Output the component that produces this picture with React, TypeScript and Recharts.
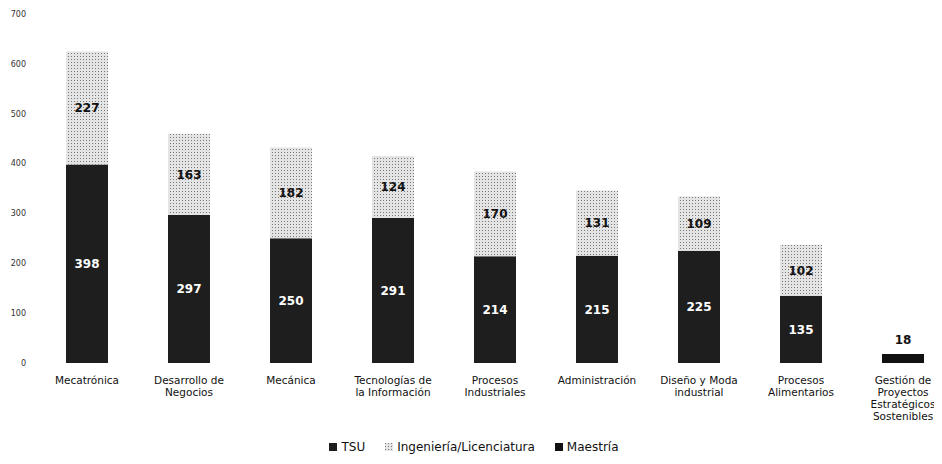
import { Bar, BarChart, LabelList, Legend, XAxis, YAxis } from "recharts";

const categories = [
  "Mecatrónica",
  "Desarrollo de\nNegocios",
  "Mecánica",
  "Tecnologías de\nla Información",
  "Procesos\nIndustriales",
  "Administración",
  "Diseño y Moda\nindustrial",
  "Procesos\nAlimentarios",
  "Gestión de\nProyectos\nEstratégicos\nSostenibles",
];
const tsu = [398, 297, 250, 291, 214, 215, 225, 135, 0];
const ingenieria = [227, 163, 182, 124, 170, 131, 109, 102, 0];
const maestria = [0, 0, 0, 0, 0, 0, 0, 0, 18];
const yTicks = [0, 100, 200, 300, 400, 500, 600, 700];

const data = categories.map((name, i) => ({
  name,
  tsu: tsu[i],
  ing: ingenieria[i],
  mae: maestria[i],
}));

const FONT = "'DejaVu Sans', sans-serif";
const hide = (v: any) => (v ? v : "");

const CategoryTick = ({ x, y, payload }: any) => {
  const lines = String(payload.value).split("\n");
  return (
    <text x={x} y={y} textAnchor="middle" fontSize={10.5} fill="#111" fontFamily={FONT}>
      {lines.map((l, i) => (
        <tspan key={i} x={x} dy={i === 0 ? 13 : 12}>
          {l}
        </tspan>
      ))}
    </text>
  );
};

const legendItems = [
  { label: "TSU", fill: "#1e1e1e" },
  { label: "Ingeniería/Licenciatura", fill: "url(#hatch)" },
  { label: "Maestría", fill: "#111" },
];

const LegendContent = () => (
  <div style={{ display: "flex", justifyContent: "center", gap: 20, fontFamily: FONT, fontSize: 12, color: "#111", paddingRight: 14 }}>
    {legendItems.map((it) => (
      <span key={it.label} style={{ display: "flex", alignItems: "center", gap: 4 }}>
        <svg width={8} height={8}>
          <rect width={8} height={8} fill={it.fill} />
        </svg>
        {it.label}
      </span>
    ))}
  </div>
);

const App = () => {
  return (
    <div style={{ fontFamily: FONT }}>
      <BarChart
        width={960}
        height={456}
        data={data}
        margin={{ top: 6, right: 14, bottom: 0, left: 0 }}
        barSize={42}
      >
        <defs>
          <pattern id="hatch" width="3" height="3" patternUnits="userSpaceOnUse">
            <rect width="3" height="3" fill="#e4e4e4" />
            <rect width="1" height="1" fill="#777" />
          </pattern>
        </defs>
        <XAxis
          dataKey="name"
          interval={0}
          tickLine={false}
          axisLine={false}
          height={77}
          tick={<CategoryTick />}
        />
        <YAxis
          width={28}
          domain={[0, 700]}
          ticks={yTicks}
          tickLine={false}
          axisLine={false}
          tickSize={0}
          tickMargin={10}
          tick={{ fontSize: 8, fill: "#333", fontFamily: FONT }}
        />
        <Legend verticalAlign="bottom" height={24} content={<LegendContent />} />
        <Bar dataKey="tsu" stackId="a" fill="#1e1e1e" isAnimationActive={false}>
          <LabelList dataKey="tsu" position="center" formatter={hide} fill="#fff" fontSize={12} fontWeight="bold" fontFamily={FONT} />
        </Bar>
        <Bar dataKey="ing" stackId="a" fill="url(#hatch)" isAnimationActive={false}>
          <LabelList dataKey="ing" position="center" formatter={hide} fill="#111" fontSize={12} fontWeight="bold" fontFamily={FONT} />
        </Bar>
        <Bar dataKey="mae" stackId="a" fill="#111" isAnimationActive={false}>
          <LabelList dataKey="mae" position="top" offset={10} formatter={hide} fill="#111" fontSize={12} fontWeight="bold" fontFamily={FONT} />
        </Bar>
      </BarChart>
    </div>
  );
};

export default App;
